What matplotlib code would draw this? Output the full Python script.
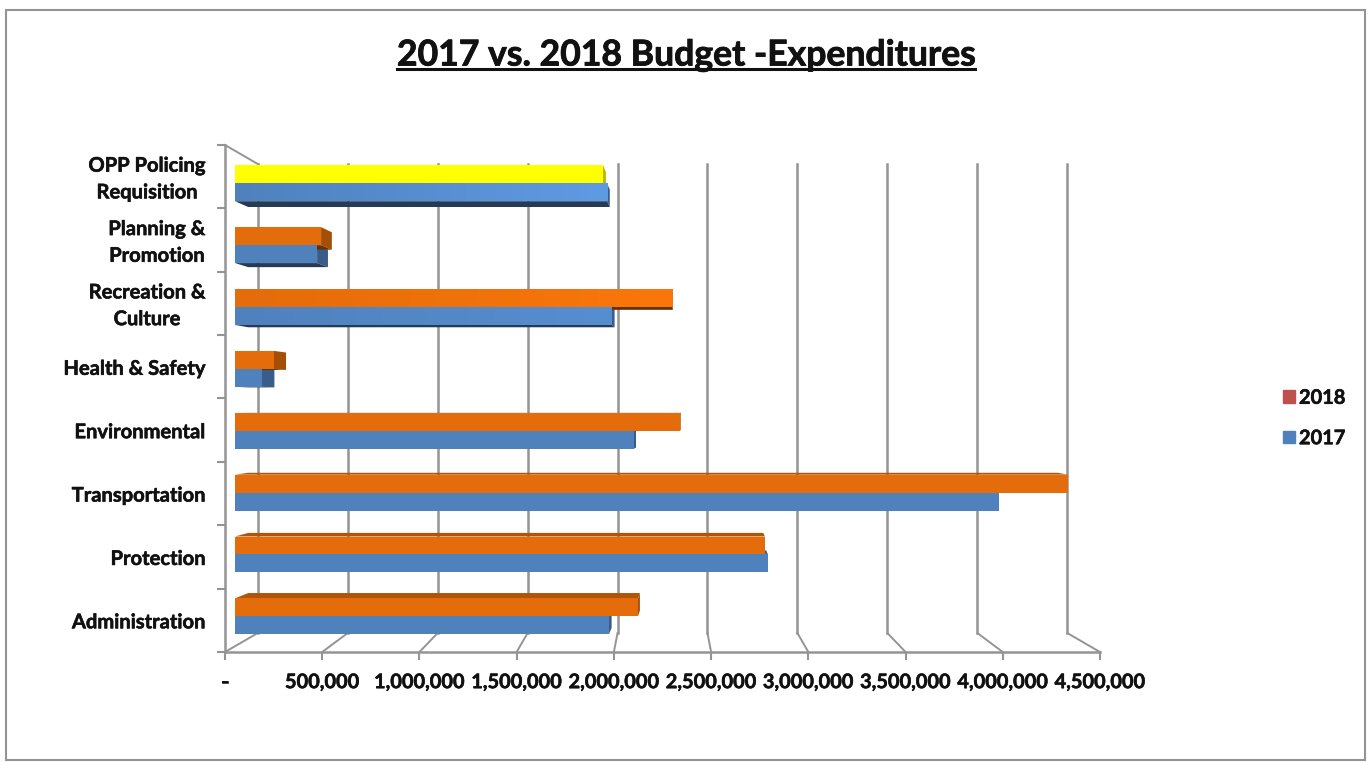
import numpy as np
import matplotlib
matplotlib.use("Agg")
import matplotlib.pyplot as plt
import matplotlib.patheffects as pe
from matplotlib.colors import to_rgb
from matplotlib.lines import Line2D
from matplotlib.patches import Patch, Polygon, Rectangle
from matplotlib.transforms import ScaledTranslation

plt.rcParams['font.family'] = ['Lato', 'DejaVu Sans']
plt.rcParams['font.weight'] = 'bold'

# data, bottom row first
categories = ["Administration", "Protection", "Transportation", "Environmental",
              "Health & Safety", "Recreation &\nCulture", "Planning &\nPromotion",
              "OPP Policing\nRequisition"]
budget_2017 = [1968000, 2805000, 4020000, 2100000, 142000, 1984000, 432000, 1958000]
budget_2018 = [2121000, 2789000, 4384000, 2342000, 205000, 2300000, 453000, 1937000]
x_ticks = [0, 500000, 1000000, 1500000, 2000000, 2500000, 3000000, 3500000, 4000000, 4500000]
x_labels = ["-", "500,000", "1,000,000", "1,500,000", "2,000,000", "2,500,000",
            "3,000,000", "3,500,000", "4,000,000", "4,500,000"]

W, H = 1372, 762
GREY = "#949494"
BLUE = "#4f81bd"
ORANGE = "#e46c0a"
YELLOW = "#ffff00"
INK = "#111111"
# how much lighter the right end of each row's bars gets
row_fade = [0, 0, 0, 0, 0, 0.1, 0, 0.2]
heavier = [pe.withStroke(linewidth=0.4, foreground=INK)]


def fig_rect(x0, y_top, x1, y_bottom):
    return [x0 / W, 1 - y_bottom / H, (x1 - x0) / W, (y_bottom - y_top) / H]


fig = plt.figure(figsize=(W / 100, H / 100), dpi=100, facecolor="white")
fig.add_artist(Rectangle((6 / W, 1 - 760 / H), 1359 / W, 750 / H, transform=fig.transFigure,
                         fill=False, edgecolor=GREY, linewidth=1.5))

# front plane of the chart box: floor axis and left wall
ax = fig.add_axes(fig_rect(225, 145, 1100, 652))
ax.set_xlim(0, 4500000)
ax.set_ylim(0, len(categories))
ax.patch.set_visible(False)
for side in ["top", "right"]:
    ax.spines[side].set_visible(False)
for side in ["left", "bottom"]:
    ax.spines[side].set_color(GREY)
    ax.spines[side].set_linewidth(1.8)

ax.set_xticks(x_ticks)
ax.set_xticklabels(x_labels, fontsize=14.4, color=INK)
ax.tick_params(axis="x", length=6, width=1.5, color=GREY, pad=8.5)
ax.set_yticks(np.arange(len(categories) + 1))
ax.set_yticklabels([])
ax.tick_params(axis="y", which="major", length=6, width=1.5, color=GREY)
ax.set_yticks(np.arange(len(categories)) + 0.5, minor=True)
ax.set_yticklabels(categories, minor=True, fontsize=14.5, color=INK,
                   ha="right", multialignment="center", linespacing=1.42)
ax.tick_params(axis="y", which="minor", length=0, pad=14)
for label in ax.get_yticklabels(minor=True):
    shift = 3 if "\n" in label.get_text() else 0
    label.set_transform(label.get_transform() + ScaledTranslation(0, shift / 100, fig.dpi_scale_trans))
    label.set_path_effects(heavier)
for label in ax.get_xticklabels():
    label.set_path_effects(heavier)

# back wall is the front plane shrunk towards the middle of the box
wall_k = 0.9257
xc, yc = 2250000, len(categories) / 2
y_low = yc - yc * wall_k
y_high = yc + yc * wall_k
for tick in x_ticks:
    xb = xc + (tick - xc) * wall_k
    ax.plot([xb, xb], [y_low, y_high], color=GREY, lw=1.8, clip_on=False, zorder=1)
    ax.plot([tick, xb], [0, y_low], color=GREY, lw=1.4, clip_on=False, zorder=1)
xb0 = xc - xc * wall_k
ax.plot([0, xb0], [len(categories), y_high], color=GREY, lw=1.4, clip_on=False, zorder=1)

# bars live on their own plane a little way into the box
bar_xlim = (-10 / 190 * 1e6, 865 / 190 * 1e6)
bar_ylim = ((616.3 - 652) / 61.86, (616.3 - 145) / 61.86)
ax_bars = fig.add_axes(fig_rect(225, 145, 1100, 652))
ax_bars.set_xlim(bar_xlim)
ax_bars.set_ylim(bar_ylim)
ax_bars.axis("off")

bar_h = 0.29
bar_k = 0.972
bar_xc, bar_yc = 2479000, 3.367


def back(x, y):
    return bar_xc + (x - bar_xc) * bar_k, bar_yc + (y - bar_yc) * bar_k


def shade(color, f):
    return tuple(c * f for c in to_rgb(color))


def depth_faces(x, y0, y1, color):
    # right, top and bottom faces, whichever the viewpoint can see
    x_left = 0
    if x < bar_xc:
        xb, yb0 = back(x, y0)
        _, yb1 = back(x, y1)
        ax_bars.add_patch(Polygon([(x, y0), (xb, yb0), (xb, yb1), (x, y1)],
                                  facecolor=shade(color, 0.72), edgecolor="none", zorder=3))
    if y1 < bar_yc:
        xa, ya = back(x_left, y1)
        xb, yb = back(x, y1)
        ax_bars.add_patch(Polygon([(x_left, y1), (xa, ya), (xb, yb), (x, y1)],
                                  facecolor=shade(color, 0.78), edgecolor="none", zorder=3))
    if y0 > bar_yc:
        xa, ya = back(x_left, y0)
        xb, yb = back(x, y0)
        ax_bars.add_patch(Polygon([(x_left, y0), (xa, ya), (xb, yb), (x, y0)],
                                  facecolor=shade(color, 0.45), edgecolor="none", zorder=3))


def front_face(row, x, y0, y1, color):
    ax_bars.barh((y0 + y1) / 2, x, height=y1 - y0, color=color, zorder=5)
    fade = row_fade[row]
    if fade > 0 and color != YELLOW:
        rgb = np.array(to_rgb(color))
        t = np.linspace(0, 1, 128)[None, :, None]
        img = np.clip(rgb[None, None, :] * (1 + fade * t), 0, 1)
        ax_bars.imshow(img, extent=(0, x, y0, y1), aspect="auto", zorder=6)


for row in range(len(categories)):
    color_18 = YELLOW if row == len(categories) - 1 else ORANGE
    depth_faces(budget_2017[row], row - bar_h, row, BLUE)
    depth_faces(budget_2018[row], row, row + bar_h, color_18)

for row in range(len(categories)):
    color_18 = YELLOW if row == len(categories) - 1 else ORANGE
    front_face(row, budget_2017[row], row - bar_h, row, BLUE)
    front_face(row, budget_2018[row], row, row + bar_h, color_18)

ax_bars.set_xlim(bar_xlim)
ax_bars.set_ylim(bar_ylim)

legend = fig.legend(handles=[Patch(color="#c0504d", label="2018"), Patch(color=BLUE, label="2017")],
                    loc="center left", bbox_to_anchor=(1265 / W, 1 - 418 / H), frameon=False,
                    fontsize=14.4, labelcolor=INK, handlelength=0.6, handleheight=0.6,
                    handletextpad=0.2, labelspacing=1.02)
for text in legend.get_texts():
    text.set_path_effects(heavier)

# title, matplotlib has no underline so it gets a line of its own
title = fig.text(686 / W, 1 - 55 / H, "2017 vs. 2018 Budget -Expenditures", fontsize=25.6,
                 ha="center", va="center", color=INK)
title.set_path_effects([pe.withStroke(linewidth=0.6, foreground=INK)])
box = title.get_window_extent(fig.canvas.get_renderer())
fig.add_artist(Line2D([box.x0 / W, box.x1 / W], [1 - 69 / H, 1 - 69 / H],
                      transform=fig.transFigure, color=INK, lw=2.2))

fig.savefig("out.png", dpi=100)
